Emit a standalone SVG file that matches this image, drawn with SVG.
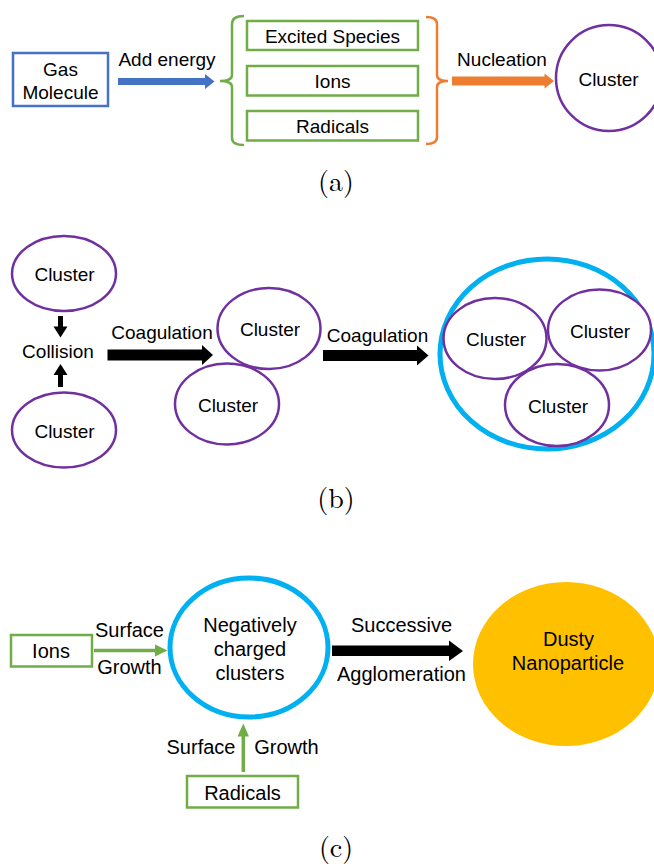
<svg xmlns="http://www.w3.org/2000/svg" width="654" height="864" viewBox="0 0 654 864">
<style>
text{font-family:"Liberation Sans",Arial,sans-serif;font-size:19px;fill:#000;text-anchor:middle}
.c{font-size:20px}
.cap{font-family:"Latin Modern Roman","Liberation Serif","DejaVu Serif",serif;font-size:28px}
.pur{fill:#fff;stroke:#7030A0;stroke-width:2.5}
.grn{fill:#fff;stroke:#70AD47;stroke-width:2.5}
.sky{fill:none;stroke:#00B0F0;stroke-width:5}
</style>
<rect width="654" height="864" fill="#fff"/>

<!-- Panel (a) -->
<g id="gas-molecule">
<rect x="13" y="53" width="95" height="53" fill="#fff" stroke="#4472C4" stroke-width="2.5"/>
<text x="60.5" y="76">Gas</text>
<text x="60.5" y="98.5">Molecule</text>
</g>
<g id="excited-species"><rect class="grn" x="247" y="21" width="171" height="29"/><text x="332.5" y="43">Excited Species</text></g>
<g id="ions-a"><rect class="grn" x="247" y="66" width="171" height="29.5"/><text x="332.5" y="88">Ions</text></g>
<g id="radicals-a"><rect class="grn" x="247" y="111" width="171" height="29.5"/><text x="332.5" y="133">Radicals</text></g>
<g id="cluster-a"><ellipse class="pur" cx="609" cy="78" rx="53" ry="53"/><text x="608.5" y="86">Cluster</text></g>

<!-- Panel (b) -->
<g id="cluster-b1"><ellipse class="pur" cx="64" cy="273.5" rx="52" ry="37.5"/><text x="64.5" y="281">Cluster</text></g>
<g id="cluster-b2"><ellipse class="pur" cx="64" cy="430" rx="52" ry="37.5"/><text x="64.5" y="437.5">Cluster</text></g>
<g id="collision"><text x="58" y="358">Collision</text></g>
<g id="cluster-b3"><ellipse class="pur" cx="269" cy="328.5" rx="51.5" ry="40.5"/><text x="270" y="336">Cluster</text></g>
<g id="cluster-b4"><ellipse class="pur" cx="227" cy="404" rx="52" ry="40.5"/><text x="228" y="411.5">Cluster</text></g>
<g id="agglomerate-b">
<ellipse class="sky" cx="547" cy="354" rx="107" ry="95"/>
<ellipse class="pur" cx="495" cy="338.5" rx="51.5" ry="40.5"/><text x="496" y="346">Cluster</text>
<ellipse class="pur" cx="599.5" cy="330" rx="51.5" ry="40.5"/><text x="600" y="338">Cluster</text>
<ellipse class="pur" cx="557" cy="405" rx="52" ry="41"/><text x="558" y="413">Cluster</text>
</g>

<!-- Panel (c) -->
<g id="ions-c"><rect class="grn" x="11" y="635" width="81" height="31.5"/><text class="c" x="51" y="657.5">Ions</text></g>
<g id="neg-clusters">
<ellipse cx="249" cy="647.5" rx="79" ry="69.5" fill="#fff" stroke="#00B0F0" stroke-width="5"/>
<text class="c" x="250" y="631.5">Negatively</text>
<text class="c" x="250" y="656">charged</text>
<text class="c" x="250" y="680">clusters</text>
</g>
<g id="radicals-c"><rect class="grn" x="187" y="776" width="111" height="31.5"/><text class="c" x="242.5" y="799.5">Radicals</text></g>
<g id="dusty"><ellipse cx="566" cy="664" rx="93" ry="82" fill="#FFC000"/>
<text class="c" x="568.5" y="646">Dusty</text>
<text class="c" x="568" y="670">Nanoparticle</text>
</g>

<!-- Connectors -->
<g id="connectors">
<polygon fill="#4472C4" points="118,78 205,78 205,74 214.5,81.5 205,89 205,85 118,85"/>
<text x="167" y="66">Add energy</text>
<path d="M244,16 Q232,16 232,24 V75 Q232,81 220,81 Q232,81 232,87 V138 Q232,145 244,145" fill="none" stroke="#70AD47" stroke-width="2.5"/>
<path d="M426,17 Q437,17 437,24 V75 Q437,81 448,81 Q437,81 437,87 V137 Q437,144 426,144" fill="none" stroke="#ED7D31" stroke-width="2.5"/>
<polygon fill="#ED7D31" points="452,76.5 544.5,76.5 544.5,73.5 554,81 544.5,88.5 544.5,85.5 452,85.5"/>
<text x="502" y="66">Nucleation</text>

<polygon fill="#000" points="58,316 63,316 63,326.5 67.5,326.5 60.5,337.5 53.5,326.5 58,326.5"/>
<polygon fill="#000" points="58,387 63,387 63,375 67.5,375 60.5,364 53.5,375 58,375"/>
<polygon fill="#000" points="107.5,349.5 202,349.5 202,345 213,355 202,365 202,360.5 107.5,360.5"/>
<text x="162" y="339">Coagulation</text>
<polygon fill="#000" points="323,350 417,350 417,345.5 428.5,355.5 417,365.5 417,361 323,361"/>
<text x="377.5" y="341.5">Coagulation</text>

<line x1="94" y1="650.5" x2="156" y2="650.5" stroke="#70AD47" stroke-width="3.5"/>
<polygon fill="#70AD47" points="155,644.5 167.5,650.5 155,656.5"/>
<text class="c" x="129.5" y="637">Surface</text>
<text class="c" x="129.5" y="674">Growth</text>
<line x1="243.3" y1="772" x2="243.3" y2="735" stroke="#70AD47" stroke-width="3.5"/>
<polygon fill="#70AD47" points="237.5,736.5 243.3,723.5 249,736.5"/>
<text class="c" x="201" y="754">Surface</text>
<text class="c" x="286.5" y="754">Growth</text>
<polygon fill="#000" points="332,645.5 449,645.5 449,640.5 463,651 449,661 449,656 332,656"/>
<text class="c" x="401.5" y="632">Successive</text>
<text class="c" x="401.5" y="681">Agglomeration</text>
</g>

<!-- Captions -->
<text class="cap" x="336" y="191">(a)</text>
<text class="cap" x="336" y="508">(b)</text>
<text class="cap" x="336" y="857">(c)</text>
</svg>
